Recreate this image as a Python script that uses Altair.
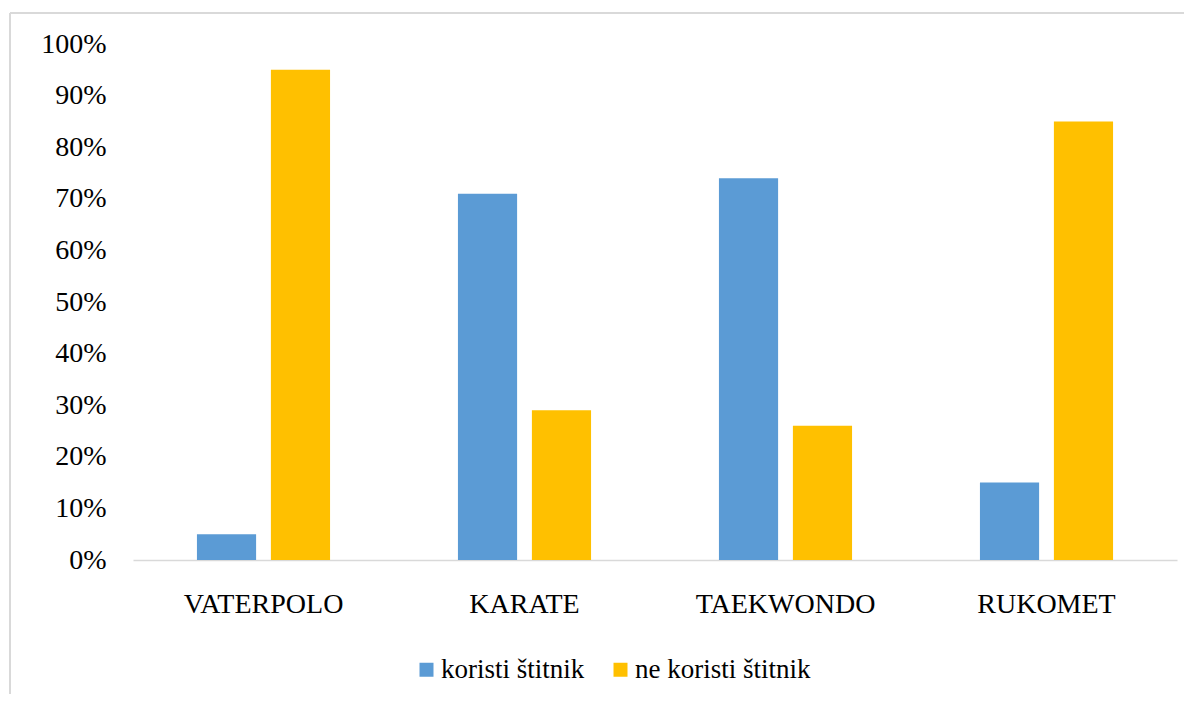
import altair as alt
import pandas as pd

sports = ["VATERPOLO", "KARATE", "TAEKWONDO", "RUKOMET"]
series = ["koristi štitnik", "ne koristi štitnik"]
koristi = [5, 71, 74, 15]
ne_koristi = [95, 29, 26, 85]
colors = ["#5B9BD5", "#FFC000"]
y_ticks = [0, 10, 20, 30, 40, 50, 60, 70, 80, 90, 100]

rows = []
for s, a, b in zip(sports, koristi, ne_koristi):
    rows.append({"sport": s, "grupa": series[0], "vrijednost": a})
    rows.append({"sport": s, "grupa": series[1], "vrijednost": b})
df = pd.DataFrame(rows)

FONT = "Liberation Serif"

bars = alt.Chart(df).mark_bar().encode(
    x=alt.X("sport:N", sort=sports, title=None,
            scale=alt.Scale(paddingInner=0.49, paddingOuter=0.245),
            axis=alt.Axis(labelAngle=0, labelFont=FONT, labelFontSize=28,
                          labelColor="#000000", labelPadding=30, ticks=False,
                          domainColor="#d9d9d9", domainWidth=1.5)),
    xOffset=alt.XOffset("grupa:N", sort=series,
                        scale=alt.Scale(paddingInner=0.2, paddingOuter=0)),
    y=alt.Y("vrijednost:Q", title=None,
            scale=alt.Scale(domain=[0, 100], nice=False),
            axis=alt.Axis(values=y_ticks, labelExpr="datum.value + '%'",
                          labelFont=FONT, labelFontSize=28, labelColor="#000000",
                          labelPadding=27, ticks=False, domain=False, grid=False)),
    color=alt.Color("grupa:N", sort=series, title=None,
                    scale=alt.Scale(domain=series, range=colors),
                    legend=alt.Legend(orient="none", direction="horizontal",
                                      legendX=280, legendY=612,
                                      symbolType="square", symbolSize=196,
                                      symbolStrokeWidth=0, symbolOpacity=1,
                                      labelFont=FONT, labelFontSize=27,
                                      labelColor="#000000", labelLimit=0,
                                      labelOffset=1, columnPadding=22, padding=0)),
)

frame_df = pd.DataFrame({"k": [0]})
left_line = alt.Chart(frame_df).mark_rule(color="#d9d9d9", strokeWidth=2).encode(
    x=alt.value(-123), y=alt.value(-31), y2=alt.value(660)
)
top_line = alt.Chart(frame_df).mark_rule(color="#d9d9d9", strokeWidth=2).encode(
    x=alt.value(-123), x2=alt.value(1070), y=alt.value(-31)
)

chart = alt.layer(left_line, top_line, bars).properties(
    width=1044, height=516,
    background="#ffffff",
    autosize=alt.AutoSizeParams(type="none"),
    padding={"left": 125, "top": 36, "right": 7, "bottom": 134},
).configure(font=FONT).configure_view(strokeWidth=0).configure_legend(
    labelFont=FONT, labelFontSize=27, labelColor="#000000", labelLimit=0
)

chart.save("out.html", embed_options={"renderer": "svg", "actions": False})
